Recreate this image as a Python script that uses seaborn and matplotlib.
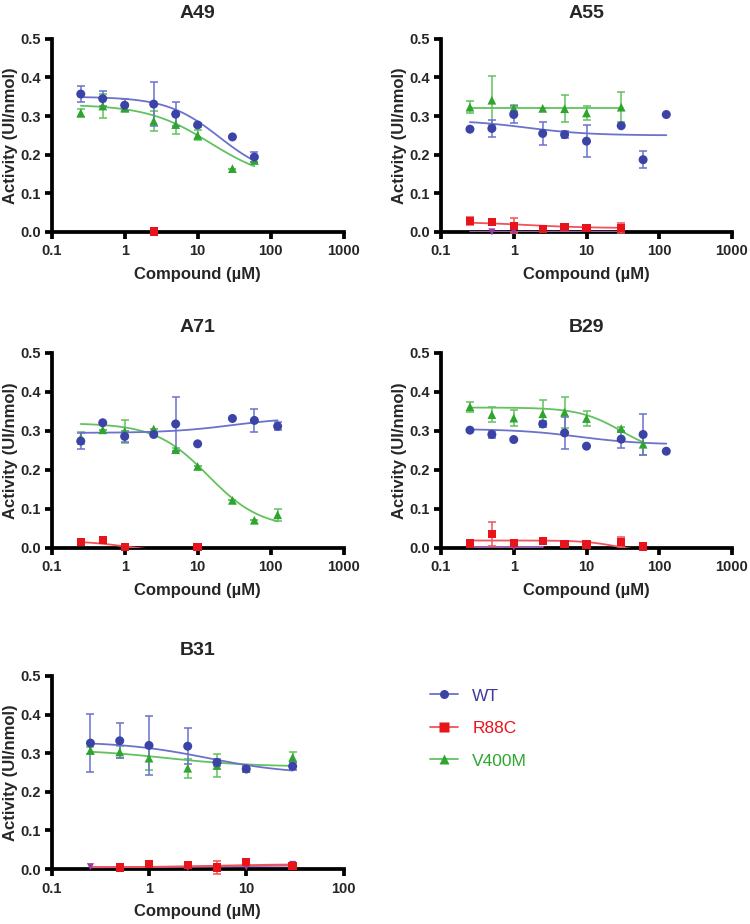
import numpy as np
import matplotlib
matplotlib.use('Agg')
import matplotlib.pyplot as plt
from matplotlib.lines import Line2D
from matplotlib.ticker import FixedLocator, FuncFormatter, NullLocator
import seaborn as sns

sns.set_theme(style='ticks')
plt.rcParams['font.family'] = ['Liberation Sans', 'DejaVu Sans']

# concentrations (uM)
conc = [0.25, 0.5, 1, 2.5, 5, 10, 30, 60, 125]

# ---- A49 ----
a49_wt_y = [0.357, 0.345, 0.328, 0.331, 0.305, 0.277, 0.246, 0.194]
a49_wt_err = [0.02, 0.02, 0.015, 0.056, 0.032, 0.005, 0, 0.013]
a49_v400m_y = [0.308, 0.326, 0.321, 0.287, 0.278, 0.250, 0.164, 0.185]
a49_v400m_err = [0.01, 0.03, 0.01, 0.025, 0.025, 0.013, 0, 0.005]
a49_r88c_x = [2.5]
a49_r88c_y = [0.001]

# ---- A55 ----
a55_wt_y = [0.266, 0.268, 0.304, 0.255, 0.252, 0.235, 0.275, 0.187, 0.304]
a55_wt_err = [0, 0.023, 0.022, 0.03, 0.01, 0.042, 0, 0.022, 0]
a55_v400m_y = [0.323, 0.341, 0.32, 0.32, 0.319, 0.308, 0.323]
a55_v400m_err = [0.016, 0.064, 0.008, 0, 0.035, 0.017, 0.038]
a55_r88c_y = [0.028, 0.025, 0.016, 0.008, 0.012, 0.011, 0.0095]
a55_r88c_err = [0.01, 0.004, 0.02, 0, 0.004, 0.004, 0.013]
a55_other_x = [0.5, 1]
a55_other_y = [0.0, 0.002]

# ---- A71 ----
a71_wt_y = [0.274, 0.321, 0.286, 0.291, 0.318, 0.267, 0.332, 0.327, 0.312]
a71_wt_err = [0.02, 0, 0.015, 0.005, 0.07, 0, 0, 0.03, 0.01]
a71_v400m_y = [0.282, 0.303, 0.299, 0.305, 0.252, 0.209, 0.122, 0.071, 0.085]
a71_v400m_err = [0.016, 0, 0.03, 0, 0.004, 0, 0, 0, 0.015]
a71_r88c_x = [0.25, 0.5, 1, 10]
a71_r88c_y = [0.015, 0.021, 0.003, 0.002]
a71_r88c_err = [0, 0, 0, 0.008]

# ---- B29 ----
b29_wt_y = [0.302, 0.291, 0.278, 0.318, 0.295, 0.261, 0.279, 0.291, 0.248]
b29_wt_err = [0, 0.01, 0, 0.008, 0.04, 0, 0.022, 0.053, 0]
b29_v400m_y = [0.362, 0.342, 0.333, 0.344, 0.348, 0.332, 0.306, 0.266]
b29_v400m_err = [0.013, 0.02, 0.02, 0.035, 0.04, 0.02, 0.005, 0.028]
b29_r88c_y = [0.011, 0.036, 0.013, 0.018, 0.01, 0.009, 0.015, 0.004]
b29_r88c_err = [0.003, 0.03, 0, 0.003, 0, 0, 0.012, 0]
b29_other_x = [1]
b29_other_y = [0.002]

# ---- B31 ----
b31_wt_y = [0.326, 0.332, 0.320, 0.318, 0.276, 0.259, 0.266]
b31_wt_err = [0.075, 0.045, 0.077, 0.047, 0.01, 0.007, 0.01]
b31_v400m_y = [0.307, 0.303, 0.287, 0.261, 0.268, 0.261, 0.289]
b31_v400m_err = [0.01, 0.015, 0.03, 0.025, 0.03, 0.005, 0.014]
b31_r88c_x = [0.5, 1, 2.5, 5, 10, 30]
b31_r88c_y = [0.004, 0.013, 0.011, 0.004, 0.019, 0.007]
b31_r88c_err = [0, 0, 0, 0.018, 0, 0.008]
b31_other_x = [0.25, 2.5, 10, 30]
b31_other_y = [0.006, 0.003, 0.005, 0.012]

# 4PL fit parameters: (start, end, ec50, hill, x from, x to)
fits = {
    'A49': {'WT': (0.35, 0.14, 20, 1.2, 0.25, 60),
            'V400M': (0.33, 0.13, 15, 1.0, 0.25, 60)},
    'A55': {'WT': (0.29, 0.25, 1.5, 1.0, 0.25, 125),
            'V400M': (0.32, 0.32, 1, 1.0, 0.25, 30),
            'R88C': (0.026, 0.01, 1.5, 1.0, 0.25, 30),
            'other': (0.0, 0.0, 1, 1.0, 0.25, 30)},
    'A71': {'WT': (0.295, 0.335, 30, 1.0, 0.25, 125),
            'V400M': (0.32, 0.05, 14, 1.2, 0.25, 125),
            'R88C': (0.018, -0.01, 1, 1.5, 0.25, 3)},
    'B29': {'WT': (0.305, 0.265, 8, 1.0, 0.25, 125),
            'V400M': (0.36, 0.24, 30, 1.5, 0.25, 60),
            'R88C': (0.019, -0.01, 25, 2.0, 0.25, 40),
            'other': (0.002, 0.002, 1, 1.0, 0.25, 2.5)},
    'B31': {'WT': (0.33, 0.245, 4, 1.0, 0.25, 30),
            'V400M': (0.31, 0.265, 1.5, 1.0, 0.25, 30),
            'R88C': (0.004, 0.013, 5, 1.0, 0.25, 30),
            'other': (0.005, 0.01, 10, 1.0, 0.25, 30)},
}

panels = {
    'A49': {'WT': (conc[:8], a49_wt_y, a49_wt_err),
            'V400M': (conc[:8], a49_v400m_y, a49_v400m_err),
            'R88C': (a49_r88c_x, a49_r88c_y, None)},
    'A55': {'WT': (conc, a55_wt_y, a55_wt_err),
            'V400M': (conc[:7], a55_v400m_y, a55_v400m_err),
            'R88C': (conc[:7], a55_r88c_y, a55_r88c_err),
            'other': (a55_other_x, a55_other_y, None)},
    'A71': {'WT': (conc, a71_wt_y, a71_wt_err),
            'V400M': (conc, a71_v400m_y, a71_v400m_err),
            'R88C': (a71_r88c_x, a71_r88c_y, a71_r88c_err)},
    'B29': {'WT': (conc, b29_wt_y, b29_wt_err),
            'V400M': (conc[:8], b29_v400m_y, b29_v400m_err),
            'R88C': (conc[:8], b29_r88c_y, b29_r88c_err),
            'other': (b29_other_x, b29_other_y, None)},
    'B31': {'WT': (conc[:7], b31_wt_y, b31_wt_err),
            'V400M': (conc[:7], b31_v400m_y, b31_v400m_err),
            'R88C': (b31_r88c_x, b31_r88c_y, b31_r88c_err),
            'other': (b31_other_x, b31_other_y, None)},
}

# marker colour, line colour, marker, size
style = {
    'WT': ('#3b44a6', '#6a72cc', 'o', 42),
    'R88C': ('#e8141c', '#f0545a', 's', 36),
    'V400M': ('#2fa52f', '#62c25f', '^', 40),
    'other': ('#9a3aa0', '#b066b8', 'v', 26),
}
draw_order = ['other', 'R88C', 'V400M', 'WT']

# axes rectangles [left, bottom, width, height] in figure fraction
layout = {
    'A49': [0.069, 0.749, 0.389, 0.209],
    'A55': [0.588, 0.749, 0.388, 0.209],
    'A71': [0.069, 0.407, 0.389, 0.211],
    'B29': [0.588, 0.407, 0.388, 0.211],
    'B31': [0.069, 0.0595, 0.389, 0.209],
}


def fit4pl(x, start, end, ec50, hill):
    return end + (start - end) / (1 + (x / ec50) ** hill)


fig = plt.figure(figsize=(7.5, 9.24), dpi=100)

for name, rect in layout.items():
    ax = fig.add_axes(rect)
    for key in draw_order:
        if key not in panels[name]:
            continue
        mcol, lcol, mk, sz = style[key]
        if key in fits[name]:
            s0, s1, ec, h, xa, xb = fits[name][key]
            xs = np.logspace(np.log10(xa), np.log10(xb), 120)
            sns.lineplot(x=xs, y=fit4pl(xs, s0, s1, ec, h), ax=ax, color=lcol,
                         lw=1.3, zorder=3)
        x, y, err = panels[name][key]
        if err is not None:
            ax.errorbar(x, y, yerr=err, fmt='none', ecolor=lcol, elinewidth=1.1,
                        capsize=3, capthick=1.1, zorder=3, clip_on=False)
        sns.scatterplot(x=x, y=y, ax=ax, color=mcol, marker=mk, s=sz,
                        edgecolor='none', zorder=5, clip_on=False)

    ax.set_xscale('log')
    xmax = 100 if name == 'B31' else 1000
    ax.set_xlim(0.1, xmax)
    ax.set_ylim(0, 0.5)
    ax.xaxis.set_major_locator(FixedLocator([t for t in [0.1, 1, 10, 100, 1000] if t <= xmax]))
    ax.xaxis.set_minor_locator(NullLocator())
    ax.xaxis.set_major_formatter(FuncFormatter(lambda v, p: '%g' % v))
    ax.set_yticks([0, 0.1, 0.2, 0.3, 0.4, 0.5])
    ax.yaxis.set_major_formatter(FuncFormatter(lambda v, p: '%.1f' % v))
    sns.despine(ax=ax)
    for sp in ['left', 'bottom']:
        ax.spines[sp].set_linewidth(2.7)
        ax.spines[sp].set_color('black')
    ax.tick_params(width=2.7, length=5, color='black', labelsize=10.5, pad=3)
    ax.tick_params(axis='x', pad=4)
    for lab in ax.get_xticklabels() + ax.get_yticklabels():
        lab.set_fontweight('bold')
    ax.set_title(name, fontsize=14, fontweight='bold', pad=15)
    ax.set_xlabel('Compound (µM)', fontsize=12, fontweight='bold', labelpad=6)
    ax.set_ylabel('Activity (UI/nmol)', fontsize=12, fontweight='bold', labelpad=1.5)
    ax.set_facecolor('white')

# legend
handles = []
labels = ['WT', 'R88C', 'V400M']
for key in labels:
    mcol, lcol, mk, sz = style[key]
    handles.append(Line2D([0], [0], color=lcol, lw=1.3, marker=mk,
                          markerfacecolor=mcol, markeredgecolor='none',
                          markersize=6.5))
leg = fig.legend(handles, labels, loc='upper left', bbox_to_anchor=(0.574, 0.255),
                 frameon=False, fontsize=12.5, handlelength=1.6, handletextpad=0.8,
                 labelspacing=1.0, borderpad=0, borderaxespad=0)
for txt, col in zip(leg.get_texts(), ['#3d3a9a', '#e8141c', '#2fa52f']):
    txt.set_color(col)

fig.savefig('out.png', dpi=100, facecolor='white')
